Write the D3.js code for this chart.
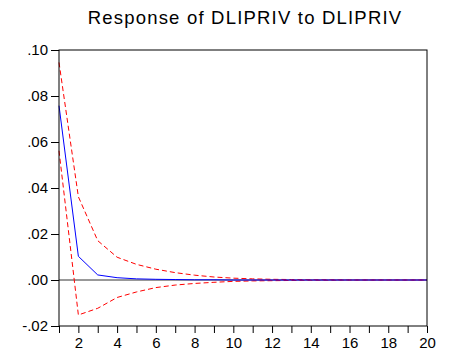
<!DOCTYPE html>
<html><head><meta charset="utf-8">
<script src="https://cdn.jsdelivr.net/npm/d3@7"></script>
<style>body{margin:0;background:#fff}svg{display:block}</style>
</head><body>
<script>
const periods = d3.range(1, 21);
const response = [0.0758, 0.0103, 0.0022, 0.0010, 0.0005, 0.0003, 0.0002, 0.0001, 0.0001, 0.0000, 0, 0, 0, 0, 0, 0, 0, 0, 0, 0];
const upperBand = [0.0946, 0.0362, 0.0171, 0.0099, 0.0068, 0.0047, 0.0032, 0.0021, 0.0013, 0.0008, 0.0005, 0.0003, 0.0002, 0.0001, 0.0001, 0, 0, 0, 0, 0];
const lowerBand = [0.0562, -0.0152, -0.0123, -0.0076, -0.0052, -0.0033, -0.0022, -0.0015, -0.0010, -0.0006, -0.0004, -0.0003, -0.0002, -0.0001, -0.0001, 0, 0, 0, 0, 0];
const yTicks = [-0.02, 0, 0.02, 0.04, 0.06, 0.08, 0.10];
const xTickLabels = [2, 4, 6, 8, 10, 12, 14, 16, 18, 20];
const title = "Response of DLIPRIV to DLIPRIV";

const W = 454, H = 355;
const m = {left: 59, right: 454 - 427, top: 50, bottom: 355 - 326};
const svg = d3.select("body").append("svg").attr("width", W).attr("height", H)
  .style("font-family", "'Liberation Sans', Arial, sans-serif");

const x = d3.scaleLinear().domain([1, 20]).range([m.left, W - m.right]);
const y = d3.scaleLinear().domain([-0.02, 0.10]).range([H - m.bottom, m.top]);

svg.append("text").attr("x", (m.left + W - m.right) / 2 + 2).attr("y", 24)
  .attr("text-anchor", "middle").attr("font-size", 18.5).attr("letter-spacing", 1.2)
  .attr("fill", "#000").text(title);

// zero line
svg.append("line").attr("x1", x(1)).attr("x2", x(20)).attr("y1", y(0)).attr("y2", y(0))
  .attr("stroke", "#333").attr("stroke-width", 1);

const line = d3.line().x((d, i) => x(periods[i])).y(d => y(d));
svg.append("path").datum(upperBand).attr("d", line).attr("fill", "none")
  .attr("stroke", "#ff0000").attr("stroke-width", 1).attr("stroke-dasharray", "5,3");
svg.append("path").datum(lowerBand).attr("d", line).attr("fill", "none")
  .attr("stroke", "#ff0000").attr("stroke-width", 1).attr("stroke-dasharray", "5,3");
svg.append("path").datum(response).attr("d", line).attr("fill", "none")
  .attr("stroke", "#0000ff").attr("stroke-width", 1);

// frame
svg.append("rect").attr("x", x(1)).attr("y", y(0.10)).attr("width", x(20) - x(1))
  .attr("height", y(-0.02) - y(0.10)).attr("fill", "none").attr("stroke", "#000").attr("stroke-width", 1);

const fmt = d => d === 0 ? ".00" : (d < 0 ? "-" : "") + d3.format(".2f")(Math.abs(d)).replace(/^0/, "");
const yAxis = d3.axisLeft(y).tickValues(yTicks).tickSize(8).tickPadding(3).tickFormat(fmt);
const gy = svg.append("g").attr("transform", `translate(${m.left},0)`).call(yAxis);
gy.select(".domain").remove();
gy.selectAll("text").attr("font-size", 15).attr("font-family", "'Liberation Sans', Arial, sans-serif").attr("fill", "#000");
gy.selectAll("line").attr("stroke", "#000");

const xAxis = d3.axisBottom(x).tickValues(periods).tickSize(7).tickPadding(4)
  .tickFormat(d => xTickLabels.includes(d) ? String(d) : "");
const gx = svg.append("g").attr("transform", `translate(0,${H - m.bottom})`).call(xAxis);
gx.select(".domain").remove();
gx.selectAll("text").attr("font-size", 15).attr("font-family", "'Liberation Sans', Arial, sans-serif").attr("fill", "#000");
gx.selectAll("line").attr("stroke", "#000");
</script>
</body></html>
